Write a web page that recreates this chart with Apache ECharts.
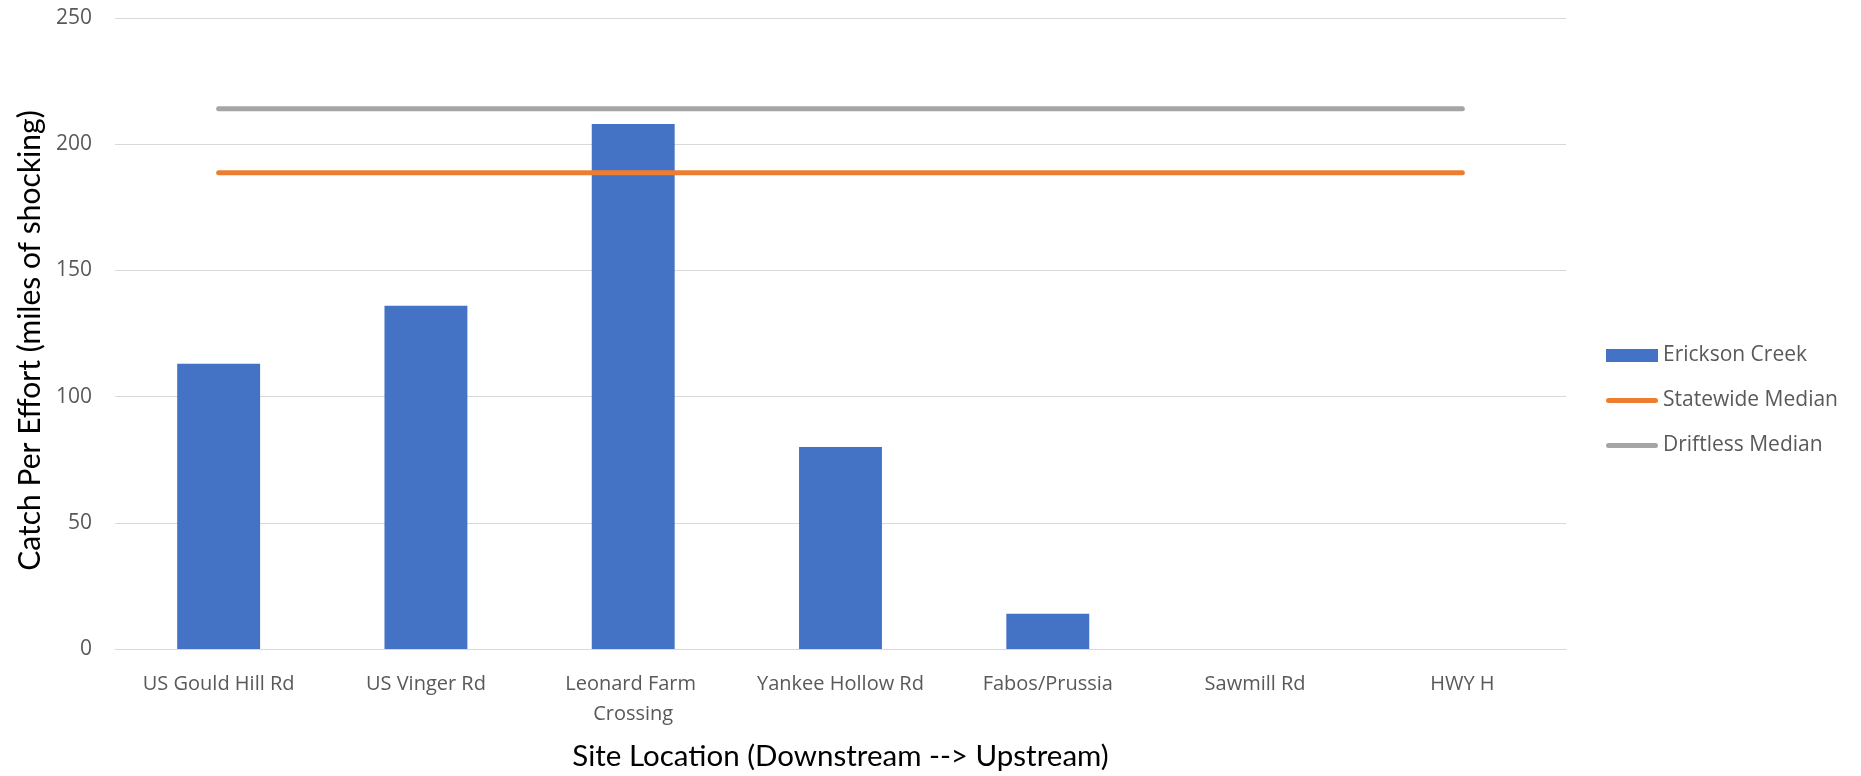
<!DOCTYPE html>
<html>
<head>
<meta charset="utf-8">
<script src="https://cdn.jsdelivr.net/npm/echarts@6/dist/echarts.min.js"></script>
<style>html,body{margin:0;padding:0;background:#fff;}#c{width:1861px;height:776px;}</style>
</head>
<body>
<div id="c"></div>
<script>
const categories = ['US Gould Hill Rd', 'US Vinger Rd', 'Leonard Farm Crossing', 'Yankee Hollow Rd', 'Fabos/Prussia', 'Sawmill Rd', 'HWY H'];
const ericksonCreek = [113, 136, 208, 80, 14, 0, 0];
const statewideMedian = [188.7, 188.7, 188.7, 188.7, 188.7, 188.7, 188.7];
const driftlessMedian = [214, 214, 214, 214, 214, 214, 214];
const yTicks = { min: 0, max: 250, interval: 50 };

const lineIcon = 'path://M2.5,0 L49.5,0 A2.5,2.5 0 0 1 49.5,5 L2.5,5 A2.5,2.5 0 0 1 2.5,0 Z';
const chart = echarts.init(document.getElementById('c'));
const txt = '#595959';
chart.setOption({
  animation: false,
  grid: { left: 115, right: 295, top: 18, bottom: 124, containLabel: false },
  legend: {
    orient: 'vertical',
    left: 1606,
    top: 345,
    padding: 0,
    itemWidth: 52,
    itemHeight: 13,
    itemGap: 24,
    symbolKeepAspect: true,
    textStyle: { fontFamily: 'Open Sans', fontSize: 21, color: txt },
    data: [
      { name: 'Erickson Creek', icon: 'rect' },
      { name: 'Statewide Median', icon: lineIcon },
      { name: 'Driftless Median', icon: lineIcon }
    ]
  },
  xAxis: {
    type: 'category',
    data: categories,
    name: 'Site Location (Downstream --> Upstream)',
    nameLocation: 'middle',
    nameGap: 92,
    nameTextStyle: { fontFamily: 'Lato', fontSize: 29.5, color: '#000' },
    axisLine: { lineStyle: { color: '#d9d9d9', width: 1 } },
    axisTick: { show: false },
    axisLabel: { interval: 0, fontFamily: 'Open Sans', fontSize: 20, color: txt, margin: 20, width: 190, overflow: 'break', lineHeight: 30 }
  },
  yAxis: {
    type: 'value',
    min: yTicks.min, max: yTicks.max, interval: yTicks.interval,
    name: 'Catch Per Effort (miles of shocking)',
    nameLocation: 'middle',
    nameGap: 68,
    nameTextStyle: { fontFamily: 'Lato', fontSize: 30, color: '#000', padding: [0, 14, 0, 0] },
    axisLine: { show: false },
    axisTick: { show: false },
    axisLabel: { fontFamily: 'Open Sans', fontSize: 21, color: txt, margin: 23 },
    splitLine: { lineStyle: { color: '#d9d9d9', width: 1 } }
  },
  series: [
    { name: 'Erickson Creek', type: 'bar', data: ericksonCreek, barWidth: '40%', itemStyle: { color: '#4472C4' } },
    { name: 'Statewide Median', type: 'line', data: statewideMedian, symbol: 'none', lineStyle: { color: '#ED7D31', width: 5, cap: 'round' }, itemStyle: { color: '#ED7D31' }, z: 3 },
    { name: 'Driftless Median', type: 'line', data: driftlessMedian, symbol: 'none', lineStyle: { color: '#A5A5A5', width: 5, cap: 'round' }, itemStyle: { color: '#A5A5A5' }, z: 3 }
  ]
});
</script>
</body>
</html>
